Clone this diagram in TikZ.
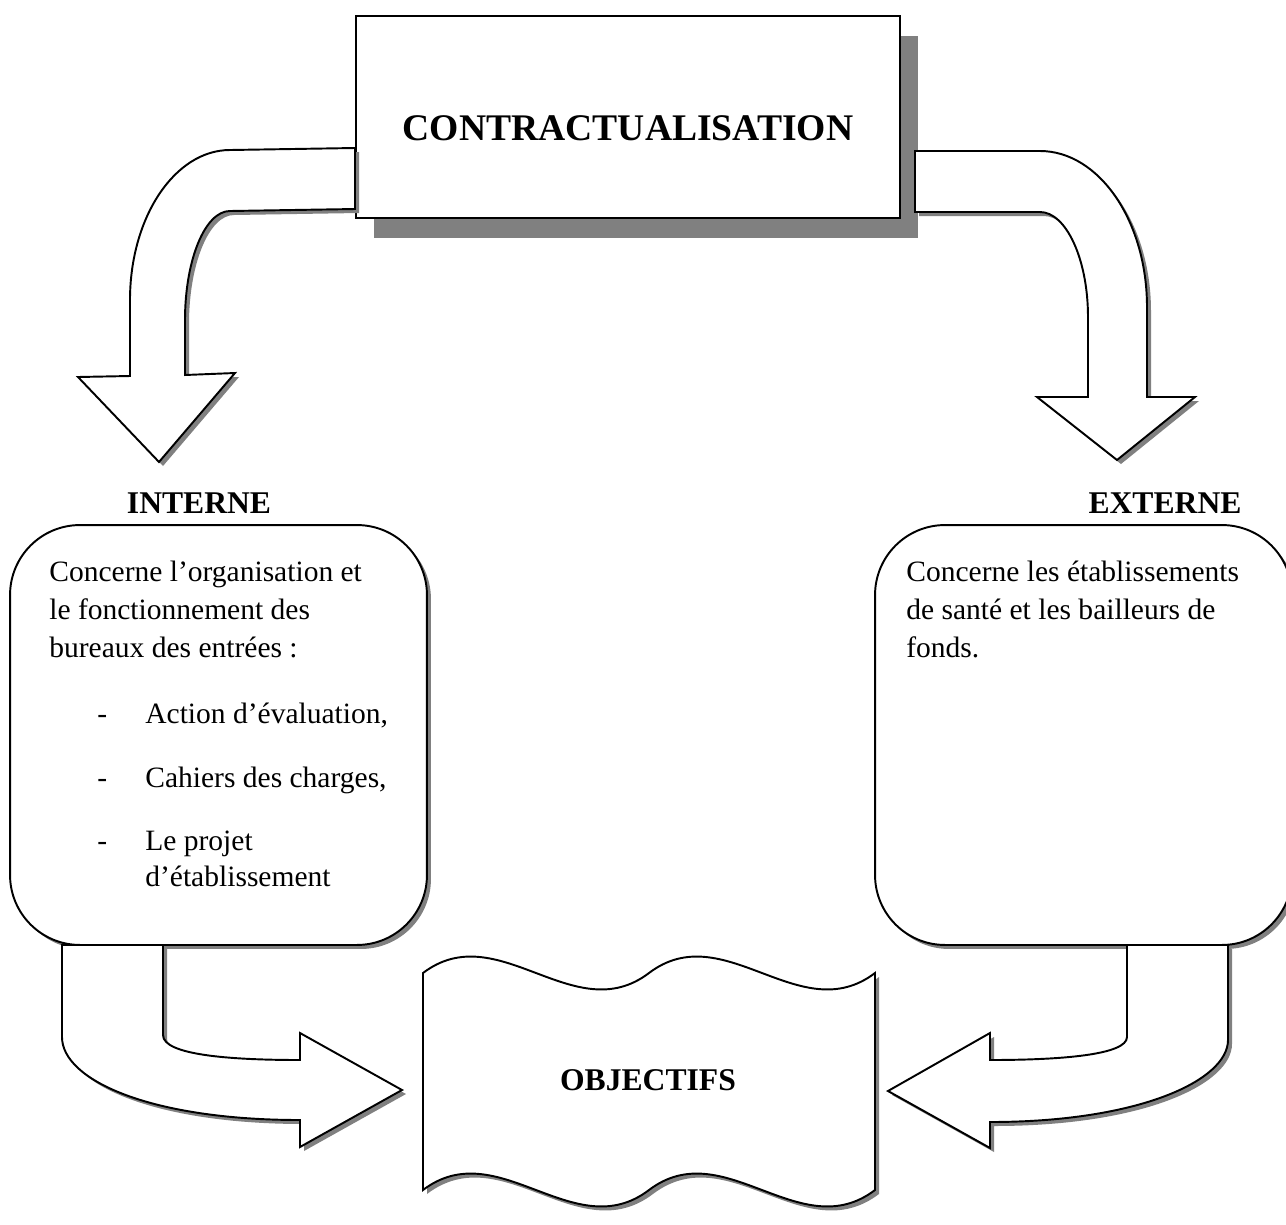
\documentclass[tikz,border=0pt]{standalone}
\usepackage{fontspec}
\setmainfont{Liberation Serif}
\usetikzlibrary{shadows}

\tikzset{
  outline/.style={draw=black, line width=1.1pt, fill=white},
  smallshadow/.style={drop shadow={shadow xshift=0.08cm, shadow yshift=-0.08cm, fill=gray, opacity=1}},
  bigshadow/.style={drop shadow={shadow xshift=0.36cm, shadow yshift=-0.4cm, fill=gray, opacity=1}},
  roundbox/.style={outline, smallshadow, rounded corners=1.4cm, minimum width=8.34cm, minimum height=8.4cm, inner sep=0pt},
  heading/.style={font=\fontsize{18}{22}\selectfont\bfseries, anchor=base, inner sep=0pt},
  bodytext/.style={font=\fontsize{16.8}{21.6}\selectfont, anchor=base west, inner sep=0pt},
}

\begin{document}
\begin{tikzpicture}[x=0.02cm, y=-0.02cm]
  \useasboundingbox (0,0) rectangle (1286,1225);
  % Main box
  \node[outline, bigshadow, minimum width=10.88cm, minimum height=4.04cm] (contrat) at (628,117) {};
  \node[font=\fontsize{21.4}{25}\selectfont\bfseries, anchor=base] (contrattxt) at (628,140) {CONTRACTUALISATION};
  % Arrow to INTERNE
  \draw[outline, smallshadow] (355,148) -- (230,150) .. controls (175,150) and (130,217) .. (130,300)
    -- (130,376) -- (78,377) -- (159,462) -- (235,373) -- (185,375) -- (185,320)
    .. controls (185,260) and (205,211) .. (230,211) -- (355,209) -- cycle;
  % Arrow to EXTERNE
  \draw[outline, smallshadow] (915,151) -- (1040,151) .. controls (1099,151) and (1147,221) .. (1147,307)
    -- (1147,397) -- (1195,397) -- (1117,460) -- (1037,397) -- (1088,397) -- (1088,317)
    .. controls (1088,259) and (1066,212) .. (1040,212) -- (915,212) -- cycle;
  \node[heading] (interne) at (199,513) {INTERNE};
  \node[heading] (externe) at (1165,513) {EXTERNE};
  % Boxes
  \node[roundbox] (boxint) at (218.5,735) {};
  \node[roundbox] (boxext) at (1083.5,735) {};
  % Text of INTERNE
  \node[bodytext] (int1) at (49,581) {Concerne l’organisation et};
  \node[bodytext] (int2) at (49,619) {le fonctionnement des};
  \node[bodytext] (int3) at (49,657) {bureaux des entrées :};
  \node[bodytext] (dash1) at (97,723) {-};
  \node[bodytext] (int4) at (145,723) {Action d’évaluation,};
  \node[bodytext] (dash2) at (97,787) {-};
  \node[bodytext] (int5) at (145,787) {Cahiers des charges,};
  \node[bodytext] (dash3) at (97,850) {-};
  \node[bodytext] (int6) at (145,850) {Le projet};
  \node[bodytext] (int7) at (145,886) {d’établissement};
  % Text of EXTERNE
  \node[bodytext] (ext1) at (906,581) {Concerne les établissements};
  \node[bodytext] (ext2) at (906,619) {de santé et les bailleurs de};
  \node[bodytext] (ext3) at (906,657) {fonds.};
  % Arrows to OBJECTIFS
  \draw[outline, smallshadow] (62,945) -- (62,1037) .. controls (62,1080) and (150,1120) .. (300,1120)
    -- (300,1147) -- (402,1090) -- (300,1033) -- (300,1060)
    .. controls (230,1060) and (163,1055) .. (163,1035) -- (163,945) -- cycle;
  \draw[outline, smallshadow] (1228,945) -- (1228,1040) .. controls (1228,1080) and (1140,1122) .. (990,1122)
    -- (990,1148) -- (888,1091) -- (990,1033) -- (990,1060)
    .. controls (1060,1060) and (1127,1055) .. (1127,1037) -- (1127,945) -- cycle;
  % OBJECTIFS (double wave)
  \draw[outline, smallshadow] (423,973) .. controls (498,916) and (574,1030) .. (649,973)
    .. controls (724,916) and (800,1030) .. (875,973) -- (875,1190)
    .. controls (800,1247) and (724,1133) .. (649,1190)
    .. controls (574,1247) and (498,1133) .. (423,1190) -- cycle;
  \node[heading] (objectifs) at (648,1090) {OBJECTIFS};
\end{tikzpicture}
\end{document}
